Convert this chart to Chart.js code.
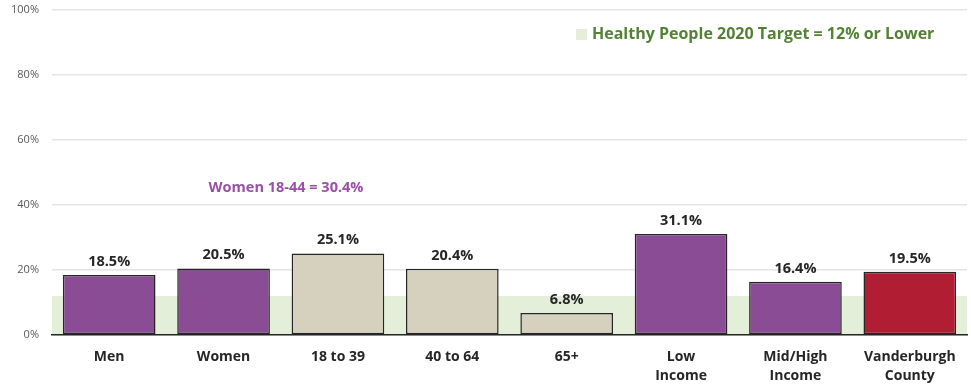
<!DOCTYPE html>
<html>
<head>
<meta charset="utf-8">
<script src="https://cdn.jsdelivr.net/npm/chart.js@4/dist/chart.umd.min.js"></script>
<style>
  html, body { margin: 0; padding: 0; background: #ffffff; }
  #wrap { width: 971px; height: 385px; position: relative; }
</style>
</head>
<body>
<div id="wrap"><canvas id="chart"></canvas></div>
<script>
// Adult smoking rates by group
const categories = [
  ['Men'], ['Women'], ['18 to 39'], ['40 to 64'], ['65+'],
  ['Low', 'Income'], ['Mid/High', 'Income'], ['Vanderburgh', 'County']
];
const values = [18.5, 20.5, 25.1, 20.4, 6.8, 31.1, 16.4, 19.5];
const barColors = ['#8b4c96', '#8b4c96', '#d6d1bf', '#d6d1bf', '#d6d1bf', '#8b4c96', '#8b4c96', '#b11e34'];
const yTicks = [0, 20, 40, 60, 80, 100];
const targetValue = 12;
const targetLabel = 'Healthy People 2020 Target = 12% or Lower';
const noteLabel = 'Women 18-44 = 30.4%';

const FONT = '"Open Sans", "Noto Sans", sans-serif';

// Shaded band from 0 up to the target rate, drawn under the bars
const targetBand = {
  id: 'targetBand',
  beforeDatasetsDraw(chart) {
    const { ctx, chartArea, scales } = chart;
    const yTop = scales.y.getPixelForValue(targetValue);
    const yBot = scales.y.getPixelForValue(0);
    ctx.save();
    ctx.fillStyle = '#e3efd9';
    ctx.fillRect(chartArea.left, yTop, chartArea.right - chartArea.left, yBot - yTop - 1);
    ctx.restore();
  }
};

// Value labels above bars, target key and the women 18-44 note
const overlayText = {
  id: 'overlayText',
  afterDatasetsDraw(chart) {
    const { ctx, chartArea } = chart;
    const meta = chart.getDatasetMeta(0);
    ctx.save();
    ctx.font = 'bold 14.5px ' + FONT;
    ctx.fillStyle = '#262626';
    ctx.textAlign = 'center';
    ctx.textBaseline = 'alphabetic';
    meta.data.forEach((bar, i) => {
      ctx.fillText(values[i].toFixed(1) + '%', bar.x, bar.y - 9);
    });

    // target key
    const keyX = chartArea.left + 524;
    const keyY = chartArea.top + 24;
    ctx.fillStyle = '#e3efd9';
    ctx.fillRect(keyX, keyY - 5, 11, 11);
    ctx.font = 'bold 16px ' + FONT;
    ctx.fillStyle = '#548235';
    ctx.textAlign = 'left';
    ctx.textBaseline = 'middle';
    ctx.fillText(targetLabel, keyX + 16, keyY);

    // note
    ctx.font = 'bold 14.5px ' + FONT;
    ctx.fillStyle = '#9b4fa6';
    ctx.textAlign = 'center';
    ctx.fillText(noteLabel, chartArea.left + 234, chartArea.top + 178);
    ctx.restore();
  }
};

new Chart(document.getElementById('chart'), {
  type: 'bar',
  data: {
    labels: categories,
    datasets: [{
      data: values,
      backgroundColor: barColors,
      borderColor: '#262626',
      borderWidth: 1.5,
      borderSkipped: false,
      barPercentage: 0.81,
      categoryPercentage: 1.0
    }]
  },
  options: {
    responsive: true,
    maintainAspectRatio: false,
    animation: false,
    layout: { padding: { top: 10, right: 4, left: 0, bottom: 0 } },
    plugins: {
      legend: { display: false },
      tooltip: { enabled: false },
      title: { display: false }
    },
    scales: {
      x: {
        afterFit(scale) { scale.height = 50; },
        grid: { display: false, drawTicks: false },
        border: { display: true, color: '#262626', width: 1.5 },
        ticks: {
          color: '#262626',
          font: { family: FONT, size: 14, weight: 'bold', lineHeight: 1.4 },
          padding: 12,
          maxRotation: 0,
          autoSkip: false
        }
      },
      y: {
        min: 0,
        max: 100,
        afterFit(scale) {
          scale.width = 52;
          scale.paddingTop = 0;
          scale.paddingBottom = 0;
        },
        afterBuildTicks(scale) { scale.ticks = yTicks.map(v => ({ value: v })); },
        grid: { color: '#e4e4e4', lineWidth: 1.5, drawTicks: false },
        border: { display: false },
        ticks: {
          color: '#595959',
          font: { family: FONT, size: 11 },
          padding: 13,
          callback: v => v + '%'
        }
      }
    }
  },
  plugins: [targetBand, overlayText]
});
</script>
</body>
</html>
